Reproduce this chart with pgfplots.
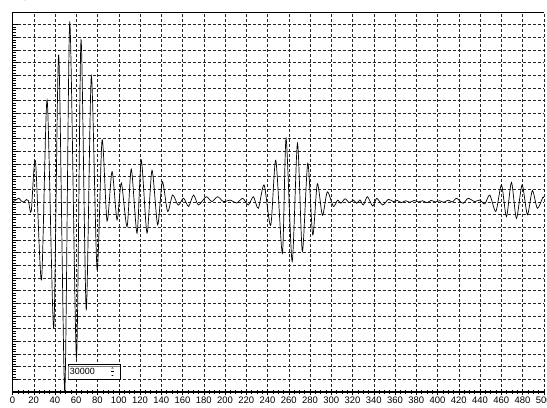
\documentclass[border=0pt]{standalone}
\usepackage{pgfplots}
\pgfplotsset{compat=1.18}
\usepackage{fontspec}
\setmainfont{Liberation Sans}
\pgfplotstableread{
x y
0 0
3 300
6 600
8 200
10.6 0
13 400
15 200
17.6 -1500
21.6 6500
27.3 -12300
32.6 16100
38.8 -19900
43.5 23200
49.2 -29900
53.9 28300
60.2 -24600
64.5 25600
69.4 -17000
74.2 19900
79.6 -10700
84.3 9800
89 -3000
93.7 4800
98.4 -2800
102.4 3000
107.8 -3900
111.8 5200
117.2 -4900
121.2 6600
126.6 -4900
131.3 5000
136.6 -3600
141 3200
146 -1500
150.7 1100
156 -500
161 600
165.7 -700
170.4 1100
175 -470
182.3 840
187.6 60
193 840
198.6 60
204.8 300
211 -150
216.7 580
222 -470
226.7 840
231.4 -1000
236.8 2700
243 -3700
247.8 6600
254 -8100
257.5 10000
263.2 -9400
268.2 9300
272.8 -7800
277.9 6100
282.6 -5200
286.9 2900
291.7 -2100
296.3 1600
302 -700
306 300
309 -200
313 500
317 -100
321 300
324 -200
327 320
330.2 -470
334 840
339 -630
342.8 580
348.4 -470
353.8 420
358.4 60
362 250
366 -100
370 200
374 -50
378 250
382 0
386 200
390 -100
394 250
398 0
402 200
406 -50
410 300
414 0
418 580
424 -210
428.8 580
435 60
439.8 320
444.5 -310
449.2 1100
454.9 -1500
460.2 2700
464.9 -2300
469.6 3100
474.3 -2600
479.6 2700
484.6 -2000
489.3 1800
494 -1000
499.3 800
500 600
}\wave
\begin{document}
\begin{tikzpicture}
\begin{axis}[
  at={(0,0)}, anchor=south west,
  scale only axis, width=531.25bp, height=380bp,
  xmin=0, xmax=500, ymin=-30000, ymax=30000,
  axis lines=left, axis line style={-, black, line width=0.8bp},
  x axis line style={line width=1.2bp},
  xtick={0,20,...,500}, ytick={-28000,-26000,...,28000},
  yticklabel=\empty,
  minor x tick num=3, minor y tick num=4,
  xtick align=center, ytick align=inside,
  major tick length=5bp, minor tick length=3bp,
  every tick/.style={black, line width=0.5bp},
  grid=major,
  major grid style={black!85, dash pattern=on 3bp off 2bp, line width=0.5bp},
  /pgf/number format/assume math mode=true,
  ticklabel style={font=\fontsize{9.5}{10}\selectfont},
  xticklabel style={inner sep=0pt, yshift=-2.5bp},
  clip=true,
]
\addplot[black, line width=0.7bp, smooth, tension=0.45] table[x=x,y=y] {\wave};
\draw[black, line width=0.8bp] (rel axis cs:0,1) -- (rel axis cs:1,1);
\draw[fill=white, draw=black, line width=0.5bp] (axis cs:52.5,-28000) rectangle (axis cs:101.2,-25600);
\draw[gray, line width=0.6bp] (axis cs:52.9,-27900) -- (axis cs:52.9,-25950) -- (axis cs:101,-25950);
\node[anchor=west, inner sep=0pt, font=\fontsize{9}{9}\selectfont] at (axis cs:53.8,-26800) {30000};
\fill[black] (axis cs:93.1,-26250) -- (axis cs:95.1,-26250) -- (axis cs:94.1,-26100) -- cycle;
\fill[black] (axis cs:93.1,-27350) -- (axis cs:95.1,-27350) -- (axis cs:94.1,-27500) -- cycle;
\draw[black, line width=0.5bp] (axis cs:93.1,-26800) -- (axis cs:95.1,-26800);
\end{axis}
\pgfresetboundingbox
\path[use as bounding box] (-12.5bp,-16bp) rectangle (534.5bp,392bp);
\end{tikzpicture}
\end{document}
